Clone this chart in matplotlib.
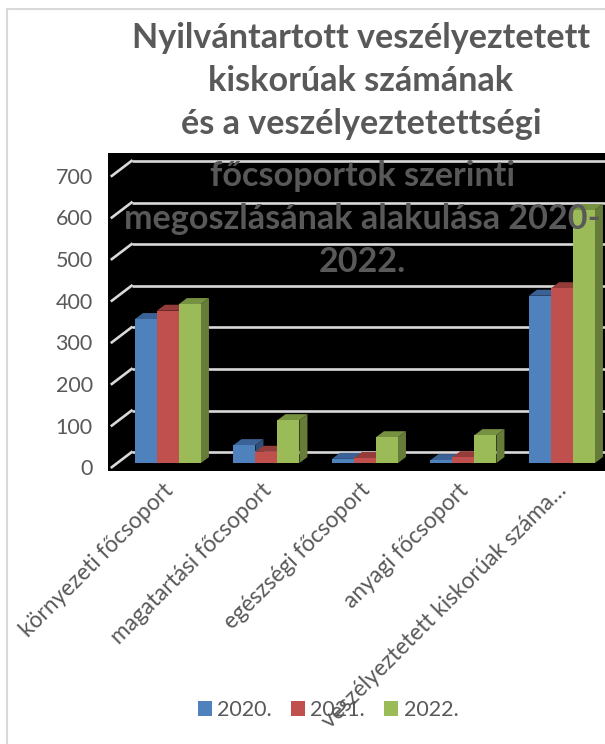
import matplotlib
matplotlib.use('Agg')
import matplotlib.pyplot as plt
import numpy as np
from matplotlib.patches import Rectangle

plt.rcParams['font.family'] = ['Lato', 'DejaVu Sans']

categories = ['környezeti főcsoport', 'magatartási főcsoport', 'egészségi főcsoport',
              'anyagi főcsoport', 'veszélyeztetett kiskorúak száma…']
years = ['2020.', '2021.', '2022.']
v2020 = [346, 43, 10, 7, 402]
v2021 = [366, 27, 12, 14, 420]
v2022 = [382, 103, 62, 67, 608]
grid_values = [0, 100, 200, 300, 400, 500, 600, 700]

front = ['#4F81BD', '#C0504D', '#9BBB59']
top = ['#3A6296', '#943C3A', '#76913F']
side = ['#2F4F78', '#783130', '#667D3A']
gray = '#595959'

W, H = 605, 744
fig = plt.figure(figsize=(W/100, H/100), dpi=100, facecolor='white')

# chart area border, runs off the right and bottom of the picture
fig.add_artist(Rectangle((6.5/W, -0.05), 1.1, 1.05-9/H, transform=fig.transFigure,
                         fill=False, edgecolor='#D9D9D9', lw=1.5, zorder=0))

# black wall, pixel box 108..605 / 153..471
ax = fig.add_axes([108/W, 1-471/H, (605-108)/W, (471-153)/H], facecolor='black')
ax.set_xlim(-0.609, 4.437)
ax.set_ylim(-19.2, 745)
for s in ax.spines.values():
    s.set_visible(False)

# fake 3d depth, in data units
bw = 0.2234
dx = 0.081
dy = 14.4

# gridlines on the back wall + floor/side diagonals
for g in grid_values:
    ax.plot([-0.37, 4.437], [g+26, g+26], color='#D9D9D9', lw=1.9, zorder=1, solid_capstyle='butt')
    ax.plot([-0.57, -0.37], [g-10, g+26], color='#D9D9D9', lw=1.9, zorder=1)

x = np.arange(len(categories))
handles = []
for i, vals in enumerate([v2020, v2021, v2022]):
    xs = x + (i-1)*bw
    b = ax.bar(xs, vals, bw, color=front[i], zorder=3+i*2, label=years[i])
    handles.append(b)
    for xi, v in zip(xs, vals):
        l, r = xi-bw/2, xi+bw/2
        ax.fill([l, r, r+dx, l+dx], [v, v, v+dy, v+dy], color=top[i], lw=0, zorder=2+i*2)
        ax.fill([r, r+dx, r+dx, r], [0, dy, v+dy, v], color=side[i], lw=0, zorder=2+i*2)

ax.set_yticks([g-10 for g in grid_values])
ax.set_yticklabels([str(g) for g in grid_values], fontsize=15.5, color=gray)
ax.set_xticks(x - 0.06)
ax.set_xticklabels(categories, fontsize=16.3, color=gray, rotation=45, ha='right',
                   rotation_mode='anchor')
ax.tick_params(axis='y', length=0, pad=11)
ax.tick_params(axis='x', length=0, pad=6)
for t in ax.get_xticklabels():
    t.set_zorder(10)
    t.set_clip_on(False)

title1 = 'Nyilvántartott veszélyeztetett\nkiskorúak számának\nés a veszélyeztetettségi'
title2 = 'főcsoportok szerinti\nmegoszlásának alakulása 2020-\n2022.'
fig.text(361/W, 1-81/H, title1, ha='center', va='center', fontsize=24.6, fontweight='bold',
         color=gray, linespacing=1.43)
fig.text(362/W, 1-219/H, title2, ha='center', va='center', fontsize=24.6, fontweight='bold',
         color=gray, linespacing=1.43)

fig.legend(handles=handles, labels=years, loc='center', bbox_to_anchor=(328/W, 1-710/H),
           ncols=3, frameon=False, fontsize=15.5, labelcolor=gray, handlelength=0.65,
           handleheight=0.65, handletextpad=0.25, columnspacing=0.89, borderpad=0)

fig.savefig('out.png', dpi=100)
